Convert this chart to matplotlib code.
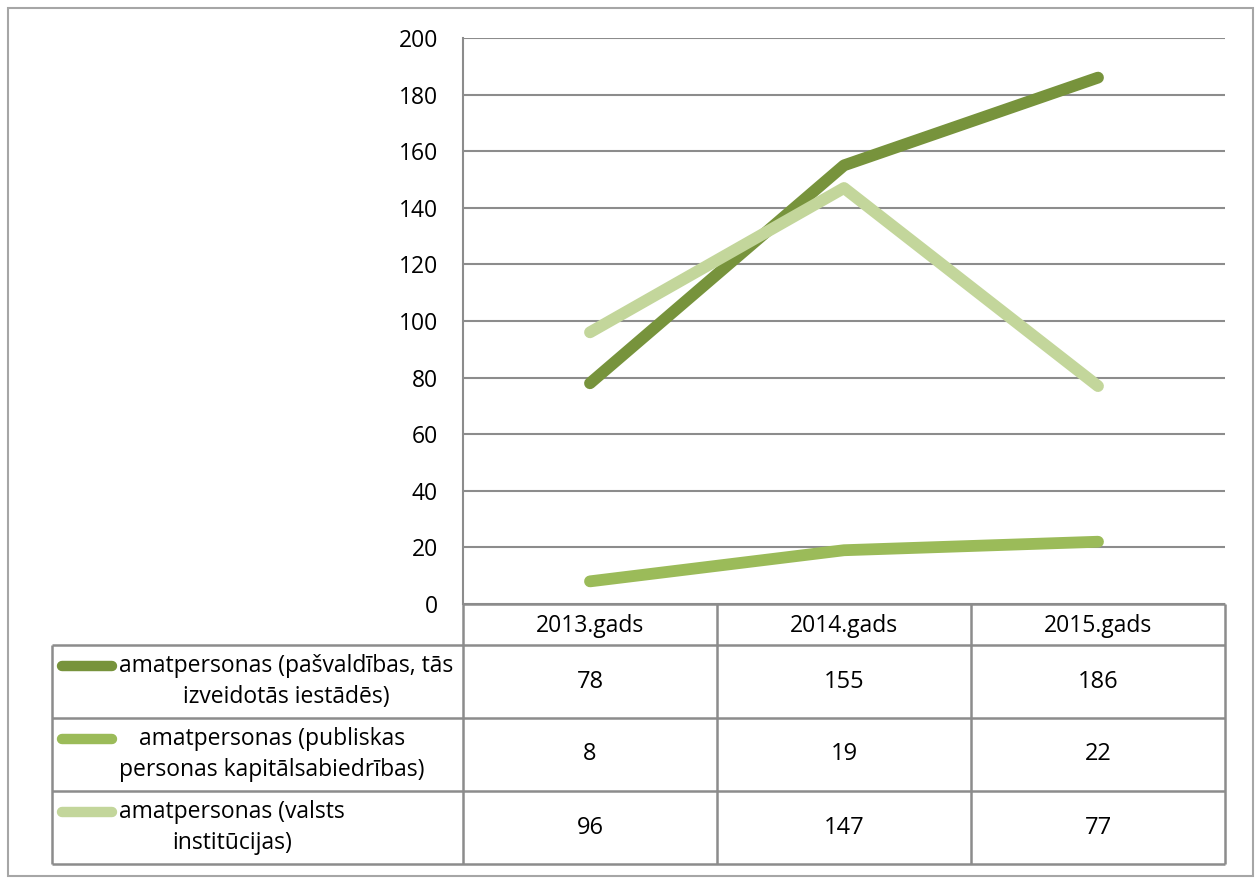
import matplotlib
matplotlib.use("Agg")
from matplotlib import pyplot as plt
from matplotlib.patches import Rectangle

years = ["2013.gads", "2014.gads", "2015.gads"]
series_names = [
    "amatpersonas (pašvaldības, tās\nizveidotās iestādēs)",
    "amatpersonas (publiskas\npersonas kapitālsabiedrības)",
    "amatpersonas (valsts\ninstitūcijas)",
]
pasvaldibas = [78, 155, 186]
publiskas = [8, 19, 22]
valsts = [96, 147, 77]
y_ticks = [0, 20, 40, 60, 80, 100, 120, 140, 160, 180, 200]

colors = ["#77933C", "#9BBB59", "#C3D69B"]
grid_color = "#8C8C8C"
plt.rcParams["font.family"] = ["Open Sans", "DejaVu Sans"]

W, H = 1258, 880
fig = plt.figure(figsize=(W / 100, H / 100), dpi=100)

# plot area in pixels
left, right, top, bottom = 463, 1225, 38, 604
ax = fig.add_axes([left / W, 1 - bottom / H, (right - left) / W, (bottom - top) / H])

x = list(range(len(years)))
all_series = [pasvaldibas, publiskas, valsts]
for vals, c in zip(all_series, colors):
    ax.plot(x, vals, color=c, lw=8.5, solid_capstyle="round", solid_joinstyle="round", zorder=3)

ax.set_xlim(-0.5, len(years) - 0.5)
ax.set_ylim(0, 200)
ax.set_yticks(y_ticks)
ax.set_xticks([])
ax.tick_params(axis="y", length=0, labelsize=16.5, pad=18)
ax.yaxis.grid(True, color=grid_color, lw=1.5)
for s in ["top", "right", "bottom"]:
    ax.spines[s].set_visible(False)
ax.spines["left"].set_color(grid_color)
ax.spines["left"].set_linewidth(1.5)

# overlay in pixel coordinates for the data table
ov = fig.add_axes([0, 0, 1, 1], facecolor="none")
ov.set_xlim(0, W)
ov.set_ylim(H, 0)
ov.axis("off")

# outer frame
ov.add_patch(Rectangle((8, 8), 1245, 868, fill=False, ec="#A6A6A6", lw=1.5))

col_w = (right - left) / len(years)
row_h = [41, 73, 73, 73]
label_left = 52
row_y = [bottom]
for h in row_h:
    row_y.append(row_y[-1] + h)
lc = dict(color=grid_color, lw=1.8, solid_capstyle="butt")

# horizontal lines
ov.plot([left, right], [row_y[0], row_y[0]], **lc)
for yy in row_y[1:]:
    ov.plot([label_left, right], [yy, yy], **lc)
# vertical lines
ov.plot([label_left, label_left], [row_y[1], row_y[-1]], **lc)
for i in range(len(years) + 1):
    xx = left + i * col_w
    ov.plot([xx, xx], [row_y[0], row_y[-1]], **lc)

# header
for i, yr in enumerate(years):
    ov.text(left + (i + 0.5) * col_w, (row_y[0] + row_y[1]) / 2 + 1, yr,
            ha="center", va="center", fontsize=16.5)

# rows
label_cx = [286, 272, 232]
for r, (name, vals, c) in enumerate(zip(series_names, all_series, colors)):
    y0, y1 = row_y[r + 1], row_y[r + 2]
    ov.plot([62, 112], [y0 + 21, y0 + 21], color=c, lw=7.5, solid_capstyle="round")
    ov.text(label_cx[r], (y0 + y1) / 2, name, ha="center", va="center",
            multialignment="center", fontsize=16.5, linespacing=1.35)
    for i, v in enumerate(vals):
        ov.text(left + (i + 0.5) * col_w, (y0 + y1) / 2, str(v),
                ha="center", va="center", fontsize=17)

fig.savefig("out.png", dpi=100)
